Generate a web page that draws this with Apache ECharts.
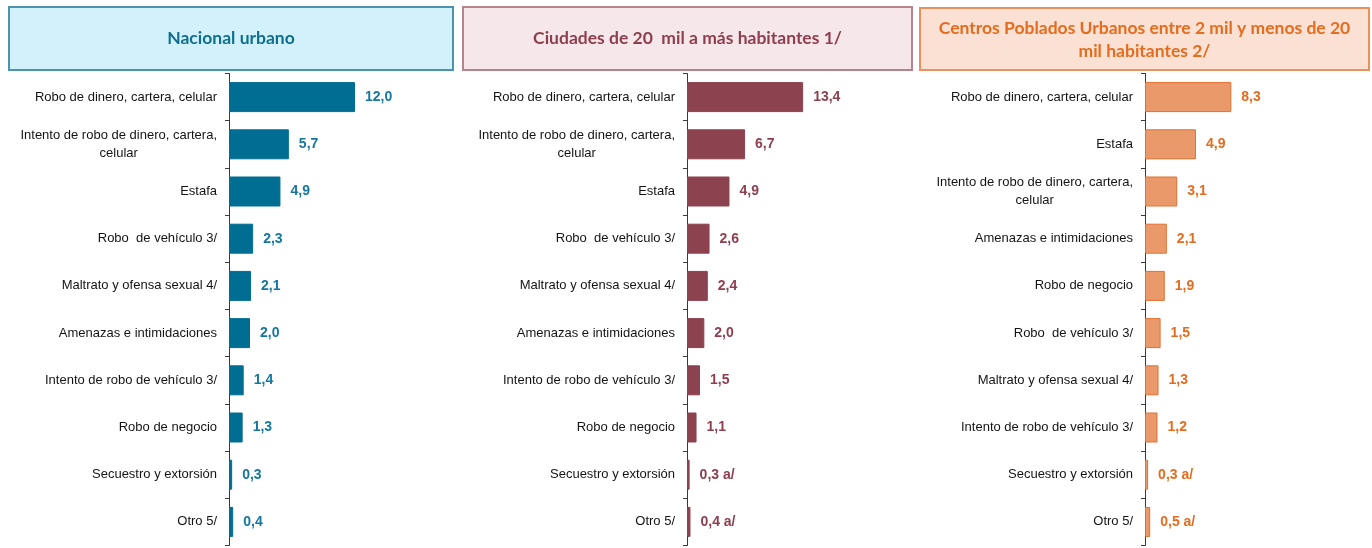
<!DOCTYPE html>
<html>
<head>
<meta charset="utf-8">
<script src="https://cdn.jsdelivr.net/npm/echarts@6/dist/echarts.min.js"></script>
<style>
  html, body { margin: 0; padding: 0; background: #fff; }
  #main { width: 1372px; height: 548px; }
</style>
</head>
<body>
<div id="main"></div>
<script>
const titles = [
  "Nacional urbano",
  "Ciudades de 20  mil a más habitantes 1/",
  "Centros Poblados Urbanos entre 2 mil y menos de 20\nmil habitantes 2/",
];

const categories1 = [
  "Robo de dinero, cartera, celular",
  "Intento de robo de dinero, cartera,\ncelular",
  "Estafa",
  "Robo  de vehículo 3/",
  "Maltrato y ofensa sexual 4/",
  "Amenazas e intimidaciones",
  "Intento de robo de vehículo 3/",
  "Robo de negocio",
  "Secuestro y extorsión",
  "Otro 5/",
];
const values1 = [12.0, 5.7, 4.9, 2.3, 2.1, 2.0, 1.4, 1.3, 0.3, 0.4];
const notes1 = ["", "", "", "", "", "", "", "", "", ""];

const categories2 = categories1.slice();
const values2 = [13.4, 6.7, 4.9, 2.6, 2.4, 2.0, 1.5, 1.1, 0.3, 0.4];
const notes2 = ["", "", "", "", "", "", "", "", "a/", "a/"];

const categories3 = [
  "Robo de dinero, cartera, celular",
  "Estafa",
  "Intento de robo de dinero, cartera,\ncelular",
  "Amenazas e intimidaciones",
  "Robo de negocio",
  "Robo  de vehículo 3/",
  "Maltrato y ofensa sexual 4/",
  "Intento de robo de vehículo 3/",
  "Secuestro y extorsión",
  "Otro 5/",
];
const values3 = [8.3, 4.9, 3.1, 2.1, 1.9, 1.5, 1.3, 1.2, 0.3, 0.5];
const notes3 = ["", "", "", "", "", "", "", "", "a/", "a/"];

const panels = [
  { cats: categories1, vals: values1, notes: notes1, left: 229, width: 210, max: 20,
    box: [9, 7, 444, 63], boxFill: "#d2f1fb", boxLine: "#4b94ad", titleColor: "#0e6f8f",
    bar: "#006e93", barLine: "#006e93", labelColor: "#1477a0" },
  { cats: categories2, vals: values2, notes: notes2, left: 687, width: 216.7, max: 25,
    box: [463, 7, 449, 63], boxFill: "#f6e7ea", boxLine: "#b7838c", titleColor: "#8e3e4e",
    bar: "#8d4250", barLine: "#8d4250", labelColor: "#8e3e4e" },
  { cats: categories3, vals: values3, notes: notes3, left: 1145, width: 208, max: 20,
    box: [920, 8, 449, 62], boxFill: "#fae1d3", boxLine: "#e8915d", titleColor: "#e46c1e",
    bar: "#ea9a6a", barLine: "#e2702f", labelColor: "#e46c1e" },
];

const labelFont = "'Liberation Sans Narrow', 'Liberation Sans', Arial, sans-serif";
const titleFont = "Lato, 'Open Sans', sans-serif";

const chart = echarts.init(document.getElementById("main"));

const fmt = (v) => v.toFixed(1).replace(".", ",");

const option = {
  animation: false,
  title: panels.map((p, i) => ({
    text: titles[i],
    left: p.box[0] + p.box[2] / 2,
    top: i === 2 ? 17 : 27,
    padding: 0,
    textAlign: "center",
    textStyle: {
      fontFamily: titleFont,
      fontWeight: "bold",
      fontSize: 17.5,
      lineHeight: 23,
      color: p.titleColor,
    },
  })),
  graphic: panels.map((p) => ({
    type: "rect",
    z: -1,
    shape: { x: p.box[0], y: p.box[1], width: p.box[2], height: p.box[3] },
    style: { fill: p.boxFill, stroke: p.boxLine, lineWidth: 2 },
  })),
  grid: panels.map((p) => ({
    left: p.left,
    width: p.width,
    top: 73.5,
    height: 472,
  })),
  xAxis: panels.map((p, i) => ({
    type: "value",
    gridIndex: i,
    min: 0,
    max: p.max,
    show: false,
  })),
  yAxis: panels.map((p, i) => ({
    type: "category",
    gridIndex: i,
    inverse: true,
    data: p.cats,
    axisLine: { show: true, lineStyle: { color: "#3a3a3a", width: 1 } },
    axisTick: { show: true, inside: false, alignWithLabel: false, length: 4, lineStyle: { color: "#3a3a3a" } },
    axisLabel: {
      margin: 12,
      fontFamily: labelFont,
      fontSize: 13,
      color: "#141414",
      lineHeight: 18,
      formatter: (v) => v.split("\n").map((s) => "{c|" + s + "}").join("\n"),
      rich: {
        c: { align: "center", fontFamily: labelFont, fontSize: 13, color: "#141414", lineHeight: 18 },
      },
    },
  })),
  series: panels.map((p, i) => ({
    type: "bar",
    xAxisIndex: i,
    yAxisIndex: i,
    barWidth: 30,
    data: p.vals,
    itemStyle: { color: p.bar, borderColor: p.barLine, borderWidth: 1 },
    label: {
      show: true,
      position: "right",
      distance: 10,
      fontFamily: labelFont,
      fontWeight: "bold",
      fontSize: 14,
      color: p.labelColor,
      formatter: (d) => fmt(d.value) + (p.notes[d.dataIndex] ? " " + p.notes[d.dataIndex] : ""),
    },
  })),
};

chart.setOption(option);
</script>
</body>
</html>
